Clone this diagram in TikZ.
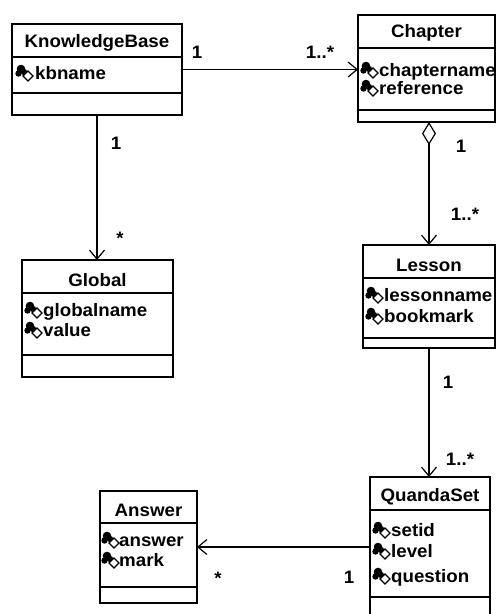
\documentclass[tikz,border=0pt]{standalone}
\usepackage{fontspec}
\setmainfont[FakeStretch=1.04]{Liberation Sans}
\usetikzlibrary{arrows.meta}
\newcommand{\umlfont}{\fontsize{18}{20}\selectfont\bfseries}
\tikzset{
  cls/.style={draw, line width=1.5pt, anchor=north west, inner sep=0pt, outer sep=0pt},
  sepline/.style={line width=1.5pt},
  ttl/.style={font=\umlfont, inner sep=0pt},
  att/.style={font=\umlfont, anchor=base west, inner sep=0pt},
  lbl/.style={font=\umlfont, inner sep=0pt},
  assoc/.style={line width=1.2pt, -{Straight Barb[length=9pt,width=15pt,line width=1.2pt]}},
  aggr/.style={line width=1.2pt, {Diamond[open,length=23pt,width=14pt,line width=1.2pt]}-{Straight Barb[length=9pt,width=15pt,line width=1.2pt]}},
  attricon/.pic={
    \fill (5,-4) circle[radius=4.3pt];
    \fill (2.5,0.5) circle[radius=3.2pt];
    \fill (8,-1) circle[radius=3.2pt];
    \draw[fill=white, line width=1.2pt] (7,3) -- (12,-2) -- (17,3) -- (12,8) -- cycle;
  }
}
\begin{document}
\begin{tikzpicture}[x=1pt, y=-1pt]
\useasboundingbox (0,0) rectangle (498,614);
\fill[white] (0,0) rectangle (498,614);

% KnowledgeBase
\node[cls, minimum width=170pt, minimum height=91pt] (kb) at (12,24) {};
\node[ttl] (kbt) at (97,43) {KnowledgeBase};
\draw[sepline] (kb.west |- 0,57) -- (kb.east |- 0,57);
\draw[sepline] (kb.west |- 0,93) -- (kb.east |- 0,93);
\pic at (16,73) {attricon};
\node[att] (kba) at (35,79) {kbname};

% Chapter
\node[cls, minimum width=137pt, minimum height=107pt] (ch) at (358,15) {};
\node[ttl] (cht) at (426.5,33) {Chapter};
\draw[sepline] (ch.west |- 0,48) -- (ch.east |- 0,48);
\draw[sepline] (ch.west |- 0,110) -- (ch.east |- 0,110);
\pic at (361,70) {attricon};
\node[att] (cha) at (379,76) {chaptername};
\pic at (361,88) {attricon};
\node[att] (chb) at (379,94) {reference};

% Global
\node[cls, minimum width=151pt, minimum height=117pt] (gl) at (22,260) {};
\node[ttl] (glt) at (97.5,280) {Global};
\draw[sepline] (gl.west |- 0,293) -- (gl.east |- 0,293);
\draw[sepline] (gl.west |- 0,355) -- (gl.east |- 0,355);
\pic at (25,310) {attricon};
\node[att] (gla) at (43,316) {globalname};
\pic at (25,330) {attricon};
\node[att] (glb) at (43,336) {value};

% Lesson
\node[cls, minimum width=132pt, minimum height=103pt] (le) at (363,245) {};
\node[ttl] (let) at (429,265) {Lesson};
\draw[sepline] (le.west |- 0,278) -- (le.east |- 0,278);
\draw[sepline] (le.west |- 0,338) -- (le.east |- 0,338);
\pic at (366,295) {attricon};
\node[att] (lea) at (384,301) {lessonname};
\pic at (366,316) {attricon};
\node[att] (leb) at (384,322) {bookmark};

% QuandaSet
\node[cls, minimum width=120pt, minimum height=150pt] (qs) at (370,477) {};
\node[ttl] (qst) at (430,497) {QuandaSet};
\draw[sepline] (qs.west |- 0,510) -- (qs.east |- 0,510);
\draw[sepline] (qs.west |- 0,597) -- (qs.east |- 0,597);
\pic at (373,530) {attricon};
\node[att] (qsa) at (391,536) {setid};
\pic at (373,551) {attricon};
\node[att] (qsb) at (391,557) {level};
\pic at (373,576) {attricon};
\node[att] (qsc) at (391,582) {question};

% Answer
\node[cls, minimum width=97pt, minimum height=112pt] (an) at (100,491) {};
\node[ttl] (ant) at (148.5,510) {Answer};
\draw[sepline] (an.west |- 0,523) -- (an.east |- 0,523);
\draw[sepline] (an.west |- 0,587) -- (an.east |- 0,587);
\pic at (102,540) {attricon};
\node[att] (ana) at (119,546) {answer};
\pic at (102,560) {attricon};
\node[att] (anb) at (119,566) {mark};

% connectors
\draw[assoc] (kb.east) -- (kb.east -| ch.west);
\draw[assoc] (kb.south) -- (kb.south |- gl.north);
\draw[aggr] (le.north |- ch.south) -- (le.north);
\draw[assoc] (le.south) -- (le.south |- qs.north);
\draw[assoc] (an.east -| qs.west) -- (an.east);

% multiplicities
\node[lbl] (m1) at (197,52) {1};
\node[lbl] (m2) at (320,52) {1..*};
\node[lbl] (m3) at (116,143) {1};
\node[lbl] (m4) at (120,238) {*};
\node[lbl] (m5) at (461,146) {1};
\node[lbl] (m6) at (465,214) {1..*};
\node[lbl] (m7) at (448,382) {1};
\node[lbl] (m8) at (460,459) {1..*};
\node[lbl] (m9) at (218,578) {*};
\node[lbl] (m10) at (349,577) {1};
\end{tikzpicture}
\end{document}
